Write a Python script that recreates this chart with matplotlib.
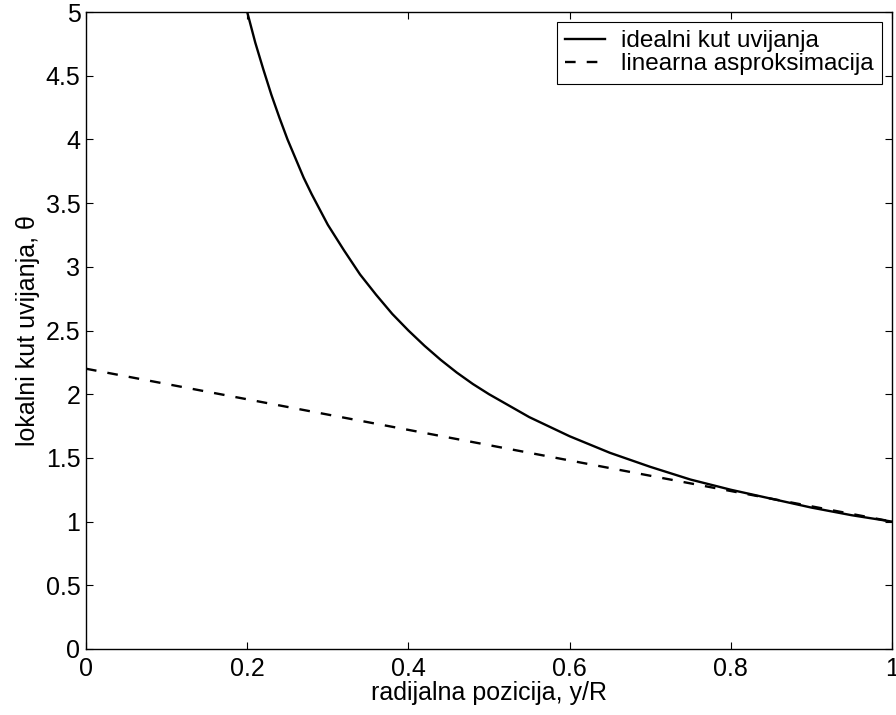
import matplotlib
matplotlib.use("Agg")
import matplotlib.pyplot as plt

# ocitane vrijednosti s grafa
pozicija = [0.20, 0.21, 0.22, 0.23, 0.24, 0.25, 0.26, 0.27, 0.28, 0.29, 0.30,
            0.32, 0.34, 0.36, 0.38, 0.40, 0.42, 0.44, 0.46, 0.48, 0.50,
            0.55, 0.60, 0.65, 0.70, 0.75, 0.80, 0.85, 0.90, 0.95, 1.00]
idealni = [5.00, 4.76, 4.55, 4.35, 4.17, 4.00, 3.85, 3.70, 3.57, 3.45, 3.33,
           3.13, 2.94, 2.78, 2.63, 2.50, 2.38, 2.27, 2.17, 2.08, 2.00,
           1.82, 1.67, 1.54, 1.43, 1.33, 1.25, 1.18, 1.11, 1.05, 1.00]
lin_pozicija = [0.0, 1.0]
linearni = [2.2, 1.0]

x_ticks = [0, 0.2, 0.4, 0.6, 0.8, 1]
x_labels = ["0", "0.2", "0.4", "0.6", "0.8", "1"]
y_ticks = [0, 0.5, 1, 1.5, 2, 2.5, 3, 3.5, 4, 4.5, 5]
y_labels = ["0", "0.5", "1", "1.5", "2", "2.5", "3", "3.5", "4", "4.5", "5"]

plt.rcParams['font.family'] = ['Liberation Sans', 'DejaVu Sans']
fs = 18

fig = plt.figure(figsize=(8.96, 7.15), dpi=100)
ax = fig.add_axes([86/896, 1 - 649/715, (892 - 86)/896, (649 - 12)/715])

ax.plot(pozicija, idealni, color='black', lw=1.7, label='idealni kut uvijanja')
ax.plot(lin_pozicija, linearni, color='black', lw=1.7, linestyle=(0, (4.5, 4.7)),
        label='linearna asproksimacija')

ax.set_xlim(0, 1)
ax.set_ylim(0, 5)
ax.set_xticks(x_ticks)
ax.set_xticklabels(x_labels, fontsize=fs)
ax.set_yticks(y_ticks)
ax.set_yticklabels(y_labels, fontsize=fs)
ax.tick_params(direction='in', length=5, width=0.8, top=True, right=True)
ax.tick_params(axis='x', pad=6)
ax.tick_params(axis='y', pad=4)
for s in ax.spines.values():
    s.set_linewidth(1.0)

ax.set_xlabel('radijalna pozicija, y/R', fontsize=fs, labelpad=0)
ax.set_ylabel('lokalni kut uvijanja, θ', fontsize=fs, labelpad=4)

leg = ax.legend(loc='upper right', fontsize=17.5, fancybox=False, framealpha=1,
                edgecolor='black', handlelength=1.65, borderpad=0.35,
                labelspacing=0.05, handletextpad=0.65, borderaxespad=0.4)
leg.get_frame().set_linewidth(0.8)

fig.savefig('out.png', dpi=100)
